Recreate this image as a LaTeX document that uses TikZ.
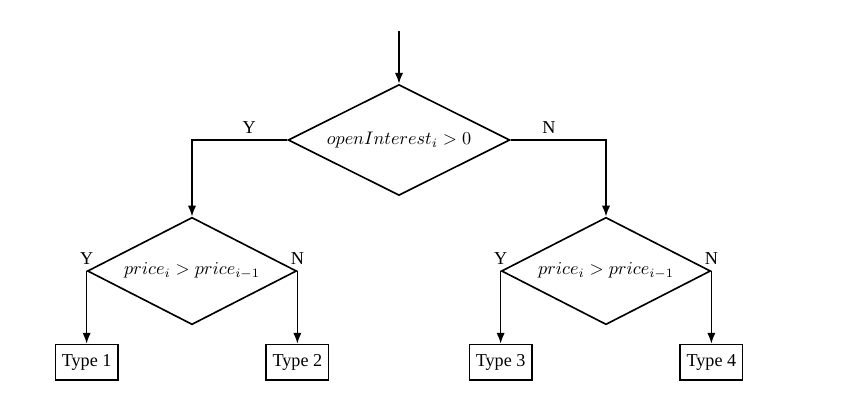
\documentclass[tikz,border=0pt]{standalone}
\usepackage[no-math]{fontspec}
\setmainfont{Liberation Serif}
\usetikzlibrary{arrows,arrows.meta,shapes,positioning}
\tikzset{
  basic/.style       = {draw, line width=0.9pt, font=\rmfamily},
  decision/.style    = {basic, diamond, aspect=2, inner sep=1pt,
                        minimum width=122pt, minimum height=61pt},
  subdecision/.style = {basic, diamond, aspect=2, inner sep=1pt,
                        minimum width=115pt, minimum height=59pt},
  typebox/.style     = {basic, rectangle, minimum height=19.5pt, inner sep=3.5pt}
}

\begin{document}
\begin{tikzpicture}[x=0.55pt, y=0.55pt, >={Latex[length=6pt,width=4.6pt]}, line width=0.9pt]
  \useasboundingbox (0,0) rectangle (848,401);

  % first test, on the open interest
  \node[decision] (dec0) at (399,261) {$openInterest_i > 0$};
  \coordinate[above=29pt of dec0.north] (start);

  % second level, a price test on each side
  \node[subdecision] (dec1) at ([shift={(-207,-131)}]dec0) {$price_i > price_{i-1}$};
  \node[subdecision] (dec2) at ([shift={(207,-131)}]dec0) {$price_i > price_{i-1}$};

  % the four outcomes, under the corners
  \node[typebox, below=40pt of dec1.west] (t1) {Type 1};
  \node[typebox, below=40pt of dec1.east] (t2) {Type 2};
  \node[typebox, below=40pt of dec2.west] (t3) {Type 3};
  \node[typebox, below=40pt of dec2.east] (t4) {Type 4};

  % connectors
  \draw[->] (start) -- (dec0);
  \draw[->] (dec0.west) -| node[above, pos=0.2] {Y} (dec1);
  \draw[->] (dec0.east) -| node[above, pos=0.2] {N} (dec2);

  \foreach \d/\l/\r in {1/1/2, 2/3/4} {
    \draw[->] (dec\d.west) -- node[at start, above] {Y} (t\l);
    \draw[->] (dec\d.east) -- node[at start, above] {N} (t\r);
  }
\end{tikzpicture}
\end{document}
